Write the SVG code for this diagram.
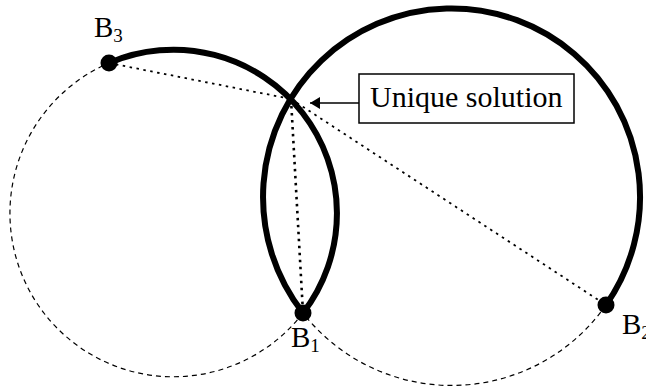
<svg xmlns="http://www.w3.org/2000/svg" width="646" height="391" viewBox="0 0 646 391">
<style>
.solid{fill:none;stroke:#000;stroke-width:6;stroke-linecap:round}
.dash{fill:none;stroke:#000;stroke-width:1.2;stroke-dasharray:5 4}
.dot{fill:none;stroke:#000;stroke-width:1.8;stroke-dasharray:2.5 4.5}
.lbl{font-family:"Liberation Serif","Times New Roman",serif;fill:#000}
</style>
<defs>
<marker id="ah" markerWidth="12" markerHeight="12" refX="10" refY="6" orient="auto" markerUnits="userSpaceOnUse">
<path d="M0,0 L10,6 L0,12 Z" fill="#000"/>
</marker>
</defs>
<rect width="646" height="391" fill="#fff"/>
<g id="connectors">
<path class="dash" d="M303,313 A163.5,163.5 0 1 1 109,63"/>
<path class="dash" d="M606,305 A188.5,188.5 0 0 1 303,313"/>
<path class="solid" d="M109,63 A163.5,163.5 0 0 1 303,313"/>
<path class="solid" d="M303,313 A188.5,188.5 0 1 1 606,305"/>
<line class="dot" x1="109" y1="63" x2="291" y2="99"/>
<line class="dot" x1="291" y1="99" x2="303" y2="313" style="stroke-width:2.6"/>
<line class="dot" x1="291" y1="99" x2="606" y2="305"/>
<line x1="359" y1="103" x2="310" y2="103" stroke="#000" stroke-width="1.5" marker-end="url(#ah)"/>
</g>
<g id="B3">
<circle cx="109" cy="63" r="8.5" fill="#000"/>
<text class="lbl" x="94" y="37" font-size="29">B<tspan font-size="19" dy="5">3</tspan></text>
</g>
<g id="B1">
<circle cx="303" cy="313" r="8.5" fill="#000"/>
<text class="lbl" x="291" y="347" font-size="29">B<tspan font-size="19" dy="5">1</tspan></text>
</g>
<g id="B2">
<circle cx="606" cy="305" r="8.5" fill="#000"/>
<text class="lbl" x="622" y="334" font-size="29">B<tspan font-size="19" dy="5">2</tspan></text>
</g>
<g id="unique">
<rect x="359" y="74" width="215" height="49" fill="#fff" stroke="#000" stroke-width="1.5"/>
<text class="lbl" x="370" y="107" font-size="30">Unique solution</text>
</g>
</svg>
